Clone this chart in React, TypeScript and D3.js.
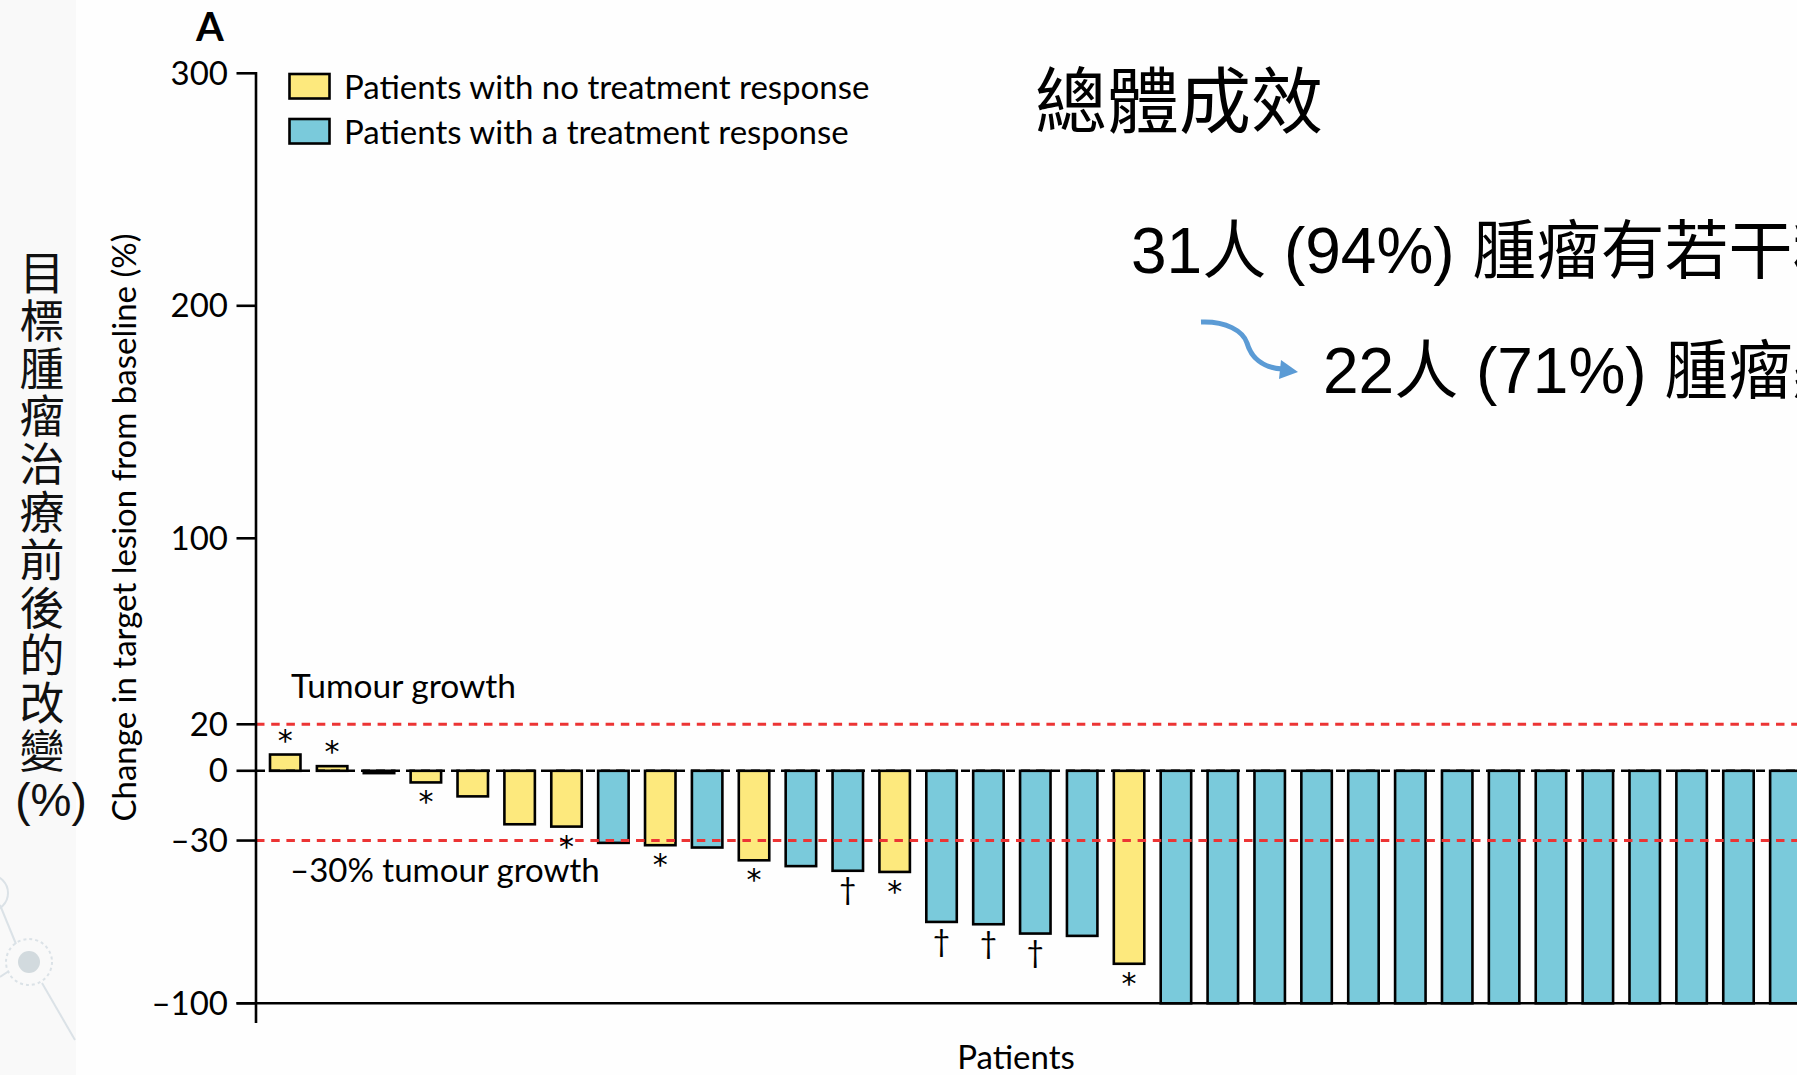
import React from "react";
import * as d3 from "d3";

// ---------- data ----------
const patientIds = [
  "P1", "P2", "P3", "P4", "P5", "P6", "P7", "P8", "P9", "P10", "P11",
  "P12", "P13", "P14", "P15", "P16", "P17", "P18", "P19", "P20", "P21", "P22",
  "P23", "P24", "P25", "P26", "P27", "P28", "P29", "P30", "P31", "P32", "P33",
];
const changeValues = [
  7, 2, -1, -5, -11, -23, -24, -31, -32, -33, -38.5,
  -41, -43, -43.5, -65, -66, -70, -71, -83, -100, -100, -100,
  -100, -100, -100, -100, -100, -100, -100, -100, -100, -100, -100,
];
const responseGroup = [
  "none", "none", "none", "none", "none", "none", "none", "resp", "none", "resp", "none",
  "resp", "resp", "none", "resp", "resp", "resp", "resp", "none", "resp", "resp", "resp",
  "resp", "resp", "resp", "resp", "resp", "resp", "resp", "resp", "resp", "resp", "resp",
];
const markers = [
  "*", "*", "", "*", "", "", "*", "", "*", "", "*",
  "", "†", "*", "†", "†", "†", "", "*", "", "", "",
  "", "", "", "", "", "", "", "", "", "", "",
];
const yTicks = [300, 200, 100, 20, 0, -30, -100];
const thresholdValues = [20, -30];
const thresholdLabels = ["Tumour growth", "–30% tumour growth"];
const legendGroups = ["none", "resp"];
const legendLabels = ["Patients with no treatment response", "Patients with a treatment response"];
const yLabelZh = ["目", "標", "腫", "瘤", "治", "療", "前", "後", "的", "改", "變"];
const titleZh = "總體成效";
const summaryLines = ["31人 (94%) 腫瘤有若干程度縮小", "22人 (71%) 腫瘤顯著縮小"];

// ---------- style ----------
const W = 1797;
const H = 1075;
const FONT = "Lato, 'Open Sans', sans-serif";
const CJK = "'Noto Sans CJK TC', 'Noto Sans CJK SC', sans-serif";
const ARIALCJK = "'Liberation Sans', Arial, 'Noto Sans CJK TC', sans-serif";
const colors: Record<string, string> = { none: "#FDE97D", resp: "#7ACADB" };
const RED = "#EC3434";
const SW = 2.6;

export default function App() {
  const y = d3.scaleLinear().domain([-100, 300]).range([1003.3, 73.3]);
  const x = d3
    .scaleBand<string>()
    .domain(patientIds)
    .range([261.8, 1808.8])
    .paddingInner(0.35)
    .paddingOuter(0.175);
  const axisX = 256;
  const y0 = y(0);
  const bw = x.bandwidth();

  const fmt = (v: number) => (v < 0 ? "–" + Math.abs(v) : String(v));

  const arrowPath = "M1201,322 C1226,321 1243,331 1247,343 C1251,357 1262,368 1283,369";

  return (
    <svg
      width={W}
      height={H}
      viewBox={`0 0 ${W} ${H}`}
      style={{ position: "absolute", left: 0, top: 0, display: "block" }}
    >
      {/* background */}
      <rect x={0} y={0} width={W} height={H} fill="#fefefe" />
      <rect x={0} y={0} width={76} height={H} fill="#f9f9f9" />

      {/* decoration bottom-left */}
      <g fill="none" stroke="#dbe2e7" strokeWidth={2}>
        <circle cx={-10} cy={893} r={18} />
        <line x1={0} y1={905} x2={16} y2={944} />
        <line x1={0} y1={977} x2={9} y2={971} />
        <line x1={42} y1={983} x2={75} y2={1040} />
        <circle cx={29} cy={962} r={23} strokeDasharray="3 3" />
      </g>
      <circle cx={29} cy={962} r={11} fill="#d2dade" />

      {/* panel letter */}
      <text x={196} y={41} fontFamily={FONT} fontWeight={700} fontSize={40} fill="#000">
        A
      </text>

      {/* Chinese y label */}
      <text x={42} y={290} textAnchor="middle" fontFamily={CJK} fontSize={45} fill="#111">
        {yLabelZh.map((c, i) => (
          <tspan key={"zh" + i} x={42} dy={i === 0 ? 0 : 47.8}>
            {c}
          </tspan>
        ))}
      </text>
      <text x={51} y={816} textAnchor="middle" fontFamily={ARIALCJK} fontSize={46} fill="#111">
        (%)
      </text>

      {/* English y label */}
      <text
        transform={`translate(136, 527.5) rotate(-90)`}
        textAnchor="middle"
        fontFamily={FONT}
        fontSize={33}
        fill="#000"
      >
        Change in target lesion from baseline (%)
      </text>

      {/* bars */}
      {changeValues.map((v, i) => {
        const yv = y(v);
        return (
          <rect
            key={"b" + i}
            x={x(patientIds[i])}
            y={Math.min(yv, y0)}
            width={bw}
            height={Math.abs(yv - y0)}
            fill={colors[responseGroup[i]]}
            stroke="#000"
            strokeWidth={SW}
          />
        );
      })}

      {/* zero line */}
      <line x1={axisX} x2={W} y1={y0} y2={y0} stroke="#000" strokeWidth={SW} strokeDasharray="9 6" />

      {/* threshold lines */}
      {thresholdValues.map((t, i) => (
        <line
          key={"t" + i}
          x1={axisX}
          x2={W}
          y1={y(t)}
          y2={y(t)}
          stroke={RED}
          strokeWidth={3}
          strokeDasharray="8.5 6.7"
        />
      ))}
      <text x={291} y={698} fontFamily={FONT} fontSize={33.5} fill="#000">
        {thresholdLabels[0]}
      </text>
      <text x={290} y={882} fontFamily={FONT} fontSize={33} fill="#000">
        {thresholdLabels[1]}
      </text>

      {/* markers */}
      {changeValues.map((v, i) => {
        const m = markers[i];
        if (!m) return null;
        const cx = (x(patientIds[i]) as number) + bw / 2;
        const isStar = m === "*";
        const yy = v >= 0 ? y(v) - 4 : y(v) + (isStar ? 30 : 29.6);
        return (
          <text
            key={"m" + i}
            x={cx}
            y={yy}
            textAnchor="middle"
            fontFamily={isStar ? "'DejaVu Sans', sans-serif" : FONT}
            fontSize={30}
            fill="#000"
          >
            {m}
          </text>
        );
      })}

      {/* axes */}
      <line x1={236.5} x2={W} y1={y(-100)} y2={y(-100)} stroke="#000" strokeWidth={SW} />
      <line x1={axisX} x2={axisX} y1={y(300) - SW / 2} y2={1023} stroke="#000" strokeWidth={SW} />
      {yTicks.map((t) => (
        <g key={"yt" + t}>
          <line x1={236.5} x2={axisX} y1={y(t)} y2={y(t)} stroke="#000" strokeWidth={SW} />
          <text
            x={228}
            y={y(t) + 11.5}
            textAnchor="end"
            fontFamily={FONT}
            fontSize={33}
            fill="#000"
          >
            {fmt(t)}
          </text>
        </g>
      ))}

      {/* x label */}
      <text x={1016} y={1069} textAnchor="middle" fontFamily={FONT} fontSize={33} fill="#000">
        Patients
      </text>

      {/* legend */}
      {legendGroups.map((g, i) => (
        <g key={"lg" + i}>
          <rect
            x={289.5}
            y={74 + i * 45}
            width={40}
            height={24.5}
            fill={colors[g]}
            stroke="#000"
            strokeWidth={SW}
          />
          <text x={344} y={99 + i * 45} fontFamily={FONT} fontSize={33} fill="#000">
            {legendLabels[i]}
          </text>
        </g>
      ))}

      {/* Chinese annotations */}
      <text x={1035} y={127} fontFamily={CJK} fontSize={72} fill="#000">
        {titleZh}
      </text>
      <text x={1131} y={273} fontFamily={ARIALCJK} fontSize={64} fill="#000">
        {summaryLines[0]}
      </text>
      <text x={1323} y={393} fontFamily={ARIALCJK} fontSize={64} fill="#000">
        {summaryLines[1]}
      </text>
      <path d={arrowPath} fill="none" stroke="#5B9BD5" strokeWidth={5} />
      <polygon points="1281,360 1298,372 1279,379" fill="#5B9BD5" />
    </svg>
  );
}
